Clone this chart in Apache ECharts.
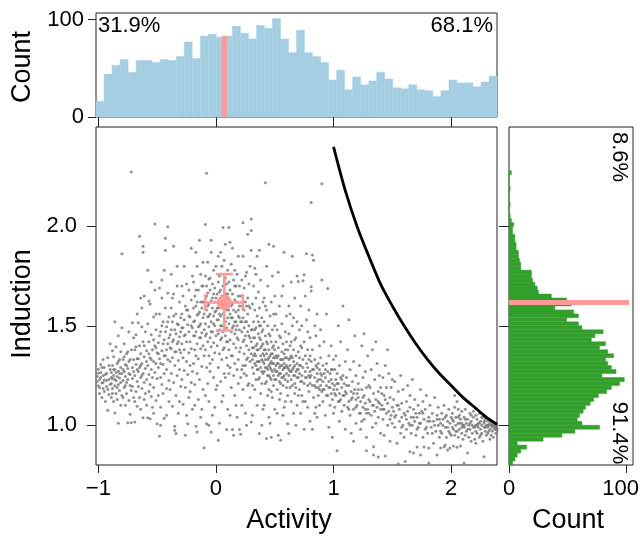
<!DOCTYPE html>
<html><head><meta charset="utf-8">
<script src="https://cdn.jsdelivr.net/npm/echarts@6/dist/echarts.min.js"></script>
<style>html,body{margin:0;padding:0;background:#fff}#c{width:640px;height:536px}</style>
</head><body><div id="c"></div>
<script>
// ---- Top histogram (Activity) ----
const activityBreaks = [-1.02,-0.952,-0.884,-0.815,-0.747,-0.679,-0.611,-0.543,-0.474,-0.406,-0.338,-0.270,-0.202,-0.133,-0.065,0.003,0.071,0.139,0.208,0.276,0.344,0.412,0.480,0.549,0.617,0.685,0.753,0.821,0.890,0.958,1.026,1.094,1.162,1.231,1.299,1.367,1.435,1.503,1.572,1.640,1.708,1.776,1.844,1.913,1.981,2.049,2.117,2.185,2.254,2.322,2.390];
const activityCounts = [16,44,53,59,46,58,58,56,59,58,62,77,60,83,85,82,83,93,86,80,94,91,101,80,66,89,66,62,56,38,48,28,41,33,37,46,39,30,29,33,28,27,21,27,38,35,35,31,36,42];
// ---- Right histogram (Induction) ----
const inductionBreaks = [0.80,0.82,0.84,0.86,0.88,0.90,0.92,0.94,0.96,0.98,1.00,1.02,1.04,1.06,1.08,1.10,1.12,1.14,1.16,1.18,1.20,1.22,1.24,1.26,1.28,1.30,1.32,1.34,1.36,1.38,1.40,1.42,1.44,1.46,1.48,1.50,1.52,1.54,1.56,1.58,1.60,1.62,1.64,1.66,1.68,1.70,1.72,1.74,1.76,1.78,1.80,1.82,1.84,1.86,1.88,1.90,1.92,1.94,1.96,1.98,2.00,2.02,2.04,2.06,2.08,2.10,2.12,2.14,2.16,2.18,2.20,2.22,2.24,2.26,2.28];
const inductionCounts = [3,5,7,10,15,7,29,45,56,77,62,58,60,63,65,69,72,76,83,87,94,98,79,91,87,84,82,89,84,77,82,70,73,80,62,59,49,59,55,39,53,49,36,25,24,22,20,19,19,10,10,9,8,8,6,6,5,5,3,3,4,2,1,0,0,1,0,0,0,1,0,0,0,2];
// ---- Mean marker with error bars ----
const meanActivity = 0.071, meanInduction = 1.617;
const activityErr = [-0.092, 0.229];
const inductionErr = [1.476, 1.760];
const meanBarTopCount = 83, meanBarRightCount = 102;
// ---- Boundary curve ----
const curveActivity = [1.0,1.1,1.2,1.3,1.4,1.5,1.6,1.7,1.8,1.9,2.0,2.1,2.2,2.3,2.39];
const curveInduction = [2.40,2.18,2.00,1.85,1.71,1.60,1.50,1.41,1.33,1.26,1.20,1.14,1.09,1.04,1.005];
// ---- Percent labels ----
const pctLabels = {left:'31.9%', right:'68.1%', above:'8.6%', below:'91.4%'};
// ---- Scatter points: [Activity x100, Induction x1000] ----
const scatterPoints = [
[-101,1245],[-100,1198],[-100,1282],[-99,1230],[-99,1160],[-98,1265],[-98,1305],[-97,1212],[-97,1140],[-96,1250],[-96,1185],[-95,1290],[-95,1228],[-94,1120],[-93,1262],[-93,1195],[-92,1340],[-91,1230],[-91,1155],[-90,1280],[-90,1410],[-92,1075],[-96,1330],
[-89,1210],[-89,1265],[-89,1140],[-88,1300],[-88,1185],[-88,1235],[-87,1120],[-87,1345],[-87,1250],[-86,1198],[-86,1280],[-86,1062],[-85,1225],[-85,1160],[-85,1395],[-84,1245],[-84,1310],[-84,1130],[-83,1205],[-83,1272],[-83,1450],[-82,1175],[-82,1238],[-82,1330],[-81,1100],[-81,1290],[-81,1215],[-80,1150],[-80,1260],[-80,1490],[-86,1520],[-83,1010],[-88,1375],[-81,1370],
[-80,1862],[-79,1225],[-79,1140],[-79,1330],[-78,1270],[-78,1190],[-78,1410],[-77,1245],[-77,1100],[-77,1305],[-76,1215],[-76,1360],[-76,1160],[-75,1013],[-75,1285],[-75,1230],[-74,1125],[-74,1470],[-74,1320],[-73,1200],[-73,1255],[-73,1055],[-72,1013],[-72,1380],[-72,1175],[-71,1290],[-71,1515],[-71,1235],[-70,1140],[-70,1330],[-69,1016],[-70,1440],[-72,2274],
[-69,1250],[-69,1380],[-68,1170],[-68,1305],[-68,1455],[-67,1220],[-67,1095],[-67,1335],[-66,1270],[-66,1515],[-66,1195],[-65,1950],[-65,1290],[-65,1140],[-65,1400],[-64,1240],[-64,1360],[-64,1080],[-63,1310],[-63,1185],[-63,1590],[-62,1900],[-62,1870],[-62,1038],[-62,1260],[-62,1420],[-61,1215],[-61,1345],[-61,1130],[-60,1285],[-60,1470],[-60,1160],[-64,1640],[-67,1560],[-61,1650],[-69,1120],[-63,1495],
[-59,1230],[-59,1375],[-59,1100],[-58,1038],[-58,1300],[-58,1510],[-57,1255],[-57,1170],[-57,1420],[-56,1033],[-56,1340],[-56,1205],[-56,1610],[-55,1280],[-55,1145],[-55,1455],[-54,1380],[-54,1240],[-54,1090],[-53,1320],[-53,1545],[-53,1190],[-52,2012],[-52,1265],[-52,1400],[-52,1680],[-51,1310],[-51,1125],[-51,1480],[-50,1008],[-50,1235],[-50,1365],[-55,1720],[-58,1780],[-53,1060],[-57,1625],[-51,1560],
[-49,1290],[-49,1415],[-49,1150],[-48,944],[-48,1335],[-48,1560],[-47,1240],[-47,1470],[-47,1090],[-46,1375],[-46,1205],[-46,1640],[-45,1305],[-45,1520],[-45,1160],[-44,1260],[-44,1430],[-44,1035],[-43,1940],[-43,1880],[-43,1350],[-43,1590],[-42,1050],[-42,1280],[-42,1495],[-42,1185],[-41,1998],[-41,1410],[-41,1330],[-40,1225],[-40,1545],[-40,1120],[-46,1730],[-44,1780],[-48,1690],[-41,1665],[-47,1000],
[-39,1320],[-39,1455],[-39,1180],[-38,1590],[-38,1260],[-38,1385],[-37,1520],[-37,1095],[-37,1340],[-36,1900],[-36,1430],[-36,1215],[-36,1660],[-35,995],[-35,975],[-35,1300],[-35,1480],[-34,958],[-34,1370],[-34,1560],[-34,1150],[-33,1250],[-33,1410],[-33,1700],[-32,1325],[-32,1505],[-32,1060],[-31,1280],[-31,1445],[-31,1620],[-30,1195],[-30,1365],[-30,1540],[-38,1760],[-33,1800],[-31,1120],[-37,1640],
[-29,1410],[-29,1560],[-29,1230],[-28,1340],[-28,1490],[-28,1650],[-28,1105],[-27,1380],[-27,1275],[-27,1530],[-26,950],[-26,1455],[-26,1600],[-26,1190],[-25,1320],[-25,1710],[-25,1420],[-24,1008],[-24,1505],[-24,1255],[-24,1580],[-23,1365],[-23,1470],[-23,1140],[-23,1680],[-22,1300],[-22,1545],[-22,1420],[-21,1890],[-21,1215],[-21,1630],[-21,1385],[-20,1490],[-20,1270],[-20,1750],[-20,1080],[-27,1800],[-25,1050],[-22,1170],[-29,1700],
[-19,1450],[-19,1590],[-19,1310],[-19,1720],[-18,1380],[-18,1525],[-18,1205],[-18,1650],[-17,995],[-17,1870],[-17,1470],[-17,1350],[-17,1600],[-16,966],[-16,1555],[-16,1260],[-16,1410],[-15,1680],[-15,1495],[-15,1130],[-15,1335],[-14,1930],[-14,1570],[-14,1440],[-14,1230],[-13,1620],[-13,1385],[-13,1510],[-13,1760],[-12,1295],[-12,1465],[-12,1590],[-12,1080],[-11,1540],[-11,1400],[-11,1700],[-11,1180],[-10,1480],[-10,1620],[-10,1350],[-16,1800],[-13,1040],[-18,1100],[-11,1820],
[-10,887],[-9,1510],[-9,1640],[-9,1380],[-9,1750],[-9,2010],[-8,1008],[-8,2267],[-8,1460],[-8,1580],[-8,1290],[-8,1700],[-7,1545],[-7,1420],[-7,1665],[-7,1210],[-7,1820],[-6,1495],[-6,1610],[-6,1350],[-6,1735],[-6,1120],[-5,1560],[-5,1440],[-5,1680],[-5,1270],[-4,1930],[-4,1870],[-4,966],[-4,1520],[-4,1625],[-4,1395],[-3,1590],[-3,1470],[-3,1710],[-3,1330],[-3,1050],[-2,1550],[-2,1660],[-2,1415],[-2,1780],[-2,1240],[-1,1500],[-1,1620],[-1,1365],[-1,1690],[0,1575],[0,1450],[0,1800],[0,1180],[-6,1000],[-9,1150],[-5,1310],[-1,1090],
[1,1530],[1,1660],[1,1400],[2,924],[2,1850],[2,1590],[2,1720],[2,1290],[3,1480],[3,1610],[3,1360],[3,1750],[4,1550],[4,1680],[4,1220],[4,1430],[5,1595],[5,1500],[5,1800],[5,1330],[6,1995],[6,1640],[6,1470],[6,1150],[6,1560],[7,1700],[7,1390],[7,1520],[7,1260],[8,1910],[8,1610],[8,1450],[8,1740],[9,978],[9,1580],[9,1340],[9,1660],[9,1490],[10,1540],[10,1420],[10,1780],[10,1080],[3,1010],[5,1120],[7,1830],[1,1200],[4,1870],[8,1240],[10,1300],[2,1460],[6,1380],[9,1710],[3,1560],[5,1650],
[11,1995],[11,1510],[11,1640],[11,1380],[11,1720],[12,1560],[12,1430],[12,1290],[12,1680],[13,1600],[13,1470],[13,1810],[13,1190],[14,978],[14,1540],[14,1350],[14,1660],[14,1490],[15,950],[15,1580],[15,1410],[15,1730],[15,1250],[16,1520],[16,1630],[16,1310],[16,1460],[17,1570],[17,1700],[17,1390],[17,1100],[18,1500],[18,1620],[18,1440],[18,1760],[19,1850],[19,1550],[19,1330],[19,1650],[19,1210],[20,978],[20,1480],[20,1600],[20,1370],[12,1050],[14,1890],[16,1150],[18,1280],[13,1350],[15,1500],[17,1480],[19,1430],[11,1260],[16,1780],[20,1700],[12,1920],[18,1040],
[21,955],[21,1520],[21,1650],[21,1390],[22,1470],[22,1600],[22,1280],[22,1730],[23,2018],[23,1540],[23,1420],[23,1180],[24,1580],[24,1360],[24,1690],[24,1490],[25,1450],[25,1620],[25,1300],[25,1060],[26,1520],[26,1400],[26,1770],[26,1250],[27,1960],[27,1560],[27,1470],[27,1340],[27,1640],[28,1500],[28,1380],[28,1210],[28,1710],[29,1440],[29,1590],[29,1320],[29,1140],[30,2037],[30,1980],[30,1880],[30,1016],[30,1480],[30,1360],[21,1240],[23,1850],[25,1520],[26,1330],[28,1600],[22,1100],[24,1260],[29,1800],[26,1000],[27,1200],[23,1300],[25,1750],
[31,1480],[31,1610],[31,1330],[31,1200],[32,1520],[32,1390],[32,1700],[32,1260],[33,1440],[33,1580],[33,1310],[33,1790],[34,1350],[34,1490],[34,1230],[34,1640],[35,1410],[35,1550],[35,1280],[35,1100],[36,1460],[36,1320],[36,1670],[36,1380],[37,1880],[37,958],[37,1500],[37,1240],[37,1590],[38,1350],[38,1430],[38,1290],[38,1730],[39,1400],[39,1540],[39,1210],[39,1330],[40,1360],[40,1480],[40,1260],[40,1620],[31,1050],[33,1180],[35,1850],[36,1230],[38,1160],[40,1080],[32,1440],[34,1300],[39,1270],[36,1520],[33,1360],[37,1320],[35,1380],[40,1320],[31,1390],[38,1500],[34,1760],[39,1000],
[41,1380],[41,1520],[41,1270],[41,1640],[42,2220],[42,1330],[42,1450],[42,1210],[43,933],[43,1360],[43,1290],[43,1580],[44,1410],[44,1250],[44,1330],[44,1700],[45,1910],[45,1300],[45,1460],[45,1180],[45,1380],[46,1240],[46,1350],[46,1550],[46,1290],[47,940],[47,1420],[47,1320],[47,1230],[47,1620],[48,1270],[48,1360],[48,1480],[48,1140],[49,1900],[49,1310],[49,1250],[49,1400],[50,1340],[50,1280],[50,1500],[50,1080],[41,1100],[43,1800],[44,1150],[46,1450],[48,1750],[49,1200],[42,1290],[45,1250],[47,1360],[50,1230],[43,1220],[46,1010],[48,1310],[41,1310],[44,1500],[49,1560],[42,1600],[47,1170],[50,1650],[45,1040],
[51,1300],[51,1420],[51,1230],[51,1560],[52,1270],[52,1340],[52,1180],[52,1480],[53,950],[53,1310],[53,1250],[53,1390],[54,1220],[54,1290],[54,1600],[54,1450],[55,924],[55,1330],[55,1260],[55,1160],[56,1370],[56,1240],[56,1510],[56,1300],[57,1280],[57,1200],[57,1410],[57,1700],[58,1870],[58,1310],[58,1250],[58,1360],[59,1230],[59,1290],[59,1470],[59,1120],[60,1340],[60,1260],[60,1550],[60,1190],[52,1060],[54,1130],[56,1650],[58,1090],[51,1350],[53,1770],[55,1440],[57,1330],[59,1380],[60,1420],[55,1210],[57,1050],
[61,1008],[61,1290],[61,1380],[61,1220],[62,958],[62,1330],[62,1250],[62,1460],[63,1190],[63,1300],[63,1560],[63,1270],[64,1350],[64,1230],[64,1120],[64,1420],[65,1850],[65,1280],[65,1200],[65,1500],[66,1320],[66,1250],[66,1380],[66,1060],[67,1210],[67,1300],[67,1640],[67,1160],[68,1270],[68,1350],[68,1440],[68,1190],[69,1750],[69,1240],[69,1310],[69,1100],[70,1723],[70,1280],[70,1370],[70,1150],[62,1600],[64,1720],[66,1540],[68,1000],[63,1400],[65,1340],[67,1430],[69,1520],[61,1150],[70,1240],
[71,1260],[71,1340],[71,1180],[71,1480],[72,1300],[72,1220],[72,1060],[72,1600],[73,1250],[73,1390],[73,1150],[74,1727],[74,1290],[74,1330],[75,1757],[75,1210],[75,1420],[75,980],[76,1270],[76,1350],[76,1120],[77,1863],[77,1240],[77,1310],[77,1530],[78,1200],[78,1290],[78,1380],[78,1090],[79,1250],[79,1330],[79,1170],[80,1270],[80,1440],[80,1210],[80,1020],[73,1500],[76,1650],[79,1580],[72,1400],[74,1120],[78,1470],[80,1350],
[81,2120],[81,1696],[81,1675],[81,1250],[81,1320],[82,1856],[82,1200],[82,1380],[83,1830],[83,1280],[83,1140],[84,1240],[84,1330],[84,1060],[85,1190],[85,1300],[85,1450],[86,1260],[86,1220],[86,1560],[87,1150],[87,1310],[87,1230],[88,1280],[88,1100],[88,1400],[89,1200],[89,1260],[89,1340],[90,2215],[90,1730],[90,1170],[90,1250],[82,980],[84,1500],[86,1040],[88,1180],[89,1480],[85,1090],
[91,1220],[91,1300],[91,1120],[92,1260],[92,1180],[92,1420],[93,1240],[93,1050],[94,1310],[94,1200],[94,1560],[95,1688],[95,1150],[95,1270],[96,1220],[96,1350],[96,990],[97,1190],[97,1260],[97,1100],[98,1230],[98,1400],[98,1160],[99,1280],[99,1210],[99,940],[100,1180],[100,1330],[100,1060],
[101,1200],[101,1280],[101,1090],[102,1150],[102,1350],[102,1230],[103,872],[103,1180],[103,1260],[104,1120],[104,1500],[104,1210],[105,1160],[105,1300],[105,1020],[106,1240],[106,1130],[106,1420],[107,1190],[107,1070],[108,1250],[108,1150],[108,1600],[109,1210],[109,1100],[110,1170],[110,1320],[110,980],
[111,1160],[111,1240],[112,1090],[112,1380],[113,1200],[113,1120],[114,1050],[114,1280],[115,1170],[115,960],[116,1220],[116,1140],[117,1320],[117,1080],[118,1180],[118,1450],[119,1130],[119,1010],[119,1250],[120,1160],[120,1100],[113,1530],[117,920],
[121,1140],[121,1210],[122,1060],[122,1300],[123,1120],[123,980],[124,1180],[124,1400],[125,1090],[125,1240],[126,1150],[126,1030],[127,1110],[127,1270],[128,1190],[128,940],[129,1080],[129,1350],[130,1130],[130,1200],[124,1020],[126,1460],[128,1060],
[131,1120],[131,1190],[132,1050],[132,1280],[133,1100],[133,1380],[134,892],[134,850],[134,1160],[135,1070],[135,1230],[136,1010],[136,1130],[137,1090],[137,1310],[138,840],[138,1170],[138,1040],[139,1110],[139,1250],[140,1080],[140,960],[140,1190],[133,990],[136,1420],[128,872],
[141,1100],[141,1160],[142,1030],[142,1240],[143,1080],[143,950],[144,845],[144,1130],[144,1300],[145,1060],[145,1190],[146,1000],[146,1110],[147,1070],[147,1260],[148,1140],[148,920],[149,1050],[149,1190],[150,1090],[150,1010],[146,1380],[143,1150],[148,1030],[150,1230],
[151,1070],[151,1130],[152,990],[152,1220],[153,1050],[154,1100],[154,910],[155,805],[155,1170],[156,1020],[156,1080],[157,960],[157,1250],[158,1040],[158,1110],[159,1000],[159,1180],[160,1060],[160,940],
[161,817],[161,1050],[162,1120],[162,980],[163,1070],[163,1200],[164,1010],[165,867],[165,1090],[165,1150],[166,960],[166,1040],[167,1230],[167,1000],[168,860],[168,1080],[169,1020],[169,1130],[170,950],[170,1060],
[171,890],[171,1040],[172,1100],[172,990],[173,1060],[174,850],[174,1180],[174,1010],[175,1070],[176,940],[176,1120],[177,890],[177,1030],[178,1080],[178,980],[179,1150],[180,1020],[180,960],
[181,885],[181,810],[181,1040],[182,1100],[183,990],[184,1060],[185,909],[185,1020],[186,1140],[187,970],[188,850],[188,1050],[189,1000],[189,1090],[190,940],[190,1030],
[191,885],[191,1010],[192,1060],[192,960],[193,1030],[194,890],[194,1100],[195,900],[195,990],[196,1050],[196,940],[197,875],[197,1020],[198,1080],[198,970],[199,885],[199,1010],[200,1040],[200,950],
[201,990],[201,1060],[202,895],[202,1020],[203,950],[203,1090],[204,1000],[204,1040],[205,889],[205,970],[205,1120],[206,1010],[206,940],[207,1050],[207,980],[208,895],[208,1030],[209,960],[209,1070],[210,1000],[210,930],[203,1150],[206,1080],[209,1010],
[211,810],[211,990],[211,1040],[212,950],[212,1080],[213,1010],[213,970],[214,860],[214,1030],[215,1000],[215,940],[216,1060],[216,980],[217,1020],[217,920],[218,1000],[218,960],[219,1040],[219,1070],[220,990],[220,930],
[221,909],[221,1000],[221,1050],[222,960],[222,1030],[223,990],[223,1010],[224,940],[224,1060],[225,980],[225,1020],[226,1000],[226,960],[227,1040],[227,920],[228,842],[228,990],[228,1010],[229,970],[229,1030],[230,1000],[230,950],
[231,990],[231,1020],[231,960],[232,1000],[232,1030],[233,980],[233,1010],[234,950],[234,1000],[235,990],[235,1020],[235,970],[236,1000],[236,940],[237,980],[237,1010],[238,990],[238,960],[239,1000],[239,975],[233,930],[236,1010],[238,1005],
// denser core of the cloud
[-101,1220],[-100,1262],[-99,1188],[-98,1240],[-97,1290],[-96,1215],[-95,1170],[-94,1255],[-93,1225],[-92,1180],[-91,1300],[-90,1205],[-89,1240],[-88,1160],[-87,1280],[-86,1230],[-85,1265],[-84,1190],[-83,1320],[-82,1260],
[-79,1280],[-78,1345],[-77,1200],[-76,1300],[-75,1370],[-74,1260],[-73,1330],[-71,1195],[-70,1270],[-68,1395],[-67,1280],[-66,1335],[-64,1300],[-63,1250],[-61,1400],[-59,1320],[-57,1360],[-55,1330],[-53,1430],[-51,1390],
[-49,1360],[-48,1450],[-47,1310],[-46,1500],[-45,1410],[-44,1350],[-43,1470],[-42,1380],[-41,1520],[-40,1440],[-39,1390],[-38,1480],[-37,1420],[-36,1550],[-35,1370],[-34,1460],[-33,1510],[-32,1420],[-31,1380],[-30,1470],[-29,1490],[-27,1450],[-25,1580],[-23,1550],[-21,1500],
[-19,1520],[-18,1450],[-17,1680],[-16,1620],[-15,1560],[-14,1500],[-13,1440],[-12,1700],[-11,1620],[-10,1560],[-9,1450],[-8,1650],[-7,1600],[-6,1550],[-5,1740],[-4,1470],[-3,1640],[-2,1510],[-1,1570],[0,1640],[1,1590],[2,1530],[3,1670],[4,1500],[5,1440],[6,1700],[8,1520],[9,1420],[10,1660],[11,1580],[13,1540],[14,1610],[16,1700],[17,1520],[19,1580],[20,1540],[22,1520],[24,1430],[26,1600],[28,1450],
[30,1420],[31,1290],[32,1350],[33,1480],[34,1400],[35,1320],[36,1280],[37,1440],[38,1390],[39,1470],[40,1410],[41,1350],[42,1380],[43,1420],[44,1280],[45,1340],[46,1310],[47,1280],[48,1390],[49,1340],[50,1380],[51,1270],[52,1310],[53,1350],[54,1260],[55,1300],[56,1330],[57,1240],[58,1290],[59,1340],[60,1300],[62,1280],[63,1340],[64,1270],[66,1290],[67,1250],[69,1280],[71,1300],[73,1220],[76,1240],
[80,1240],[82,1280],[84,1200],[86,1290],[87,1190],[89,1230],[91,1180],[93,1280],[94,1150],[96,1190],[98,1280],[99,1130],[101,1160],[103,1210],[105,1120],[107,1230],[109,1150],[111,1200],[113,1080],[115,1130],[117,1160],[119,1090],[121,1180],[123,1060],[125,1140],[127,1080],[130,1060],[134,1100],[138,1120],[142,1080],
[152,1040],[155,1100],[158,990],[162,1030],[165,1000],[168,1040],[171,980],[173,1010],[176,1060],[179,990],[182,1020],[184,960],[186,1000],[188,1030],[191,970],[193,1000],[195,1040],[197,990],[199,960],[201,1030],[202,980],[204,970],[206,1040],[207,1010],[209,990],[211,1000],[212,1030],[214,980],[216,1010],[217,1050],[219,990],[221,970],[222,1000],[224,1010],[225,950],[226,1040],[228,1020],[229,990],[231,1000],[232,970],[234,1020],[235,1000],[237,995],[238,980],[239,985]
];

const FONT = 'Liberation Sans, Arial, Helvetica, sans-serif';
const chart = echarts.init(document.getElementById('c'), null, {renderer:'canvas'});

const topHistData = activityCounts.map((c,i)=>[activityBreaks[i], activityBreaks[i+1], c]);
const rightHistData = inductionCounts.map((c,i)=>[inductionBreaks[i], inductionBreaks[i+1], c]);
const scatterData = scatterPoints.map(p=>[p[0]/100, p[1]/1000]);
const curveData = curveActivity.map((x,i)=>[x, curveInduction[i]]);

const axisColor = '#222';
function fmtNum(v){ return v < 0 ? '\u2212' + Math.abs(v) : String(v); }
const lbl = {fontSize:22, color:'#000', fontFamily:FONT};
const noLine = {show:false, onZero:false};

const option = {
  animation:false,
  backgroundColor:'#fff',
  grid:[
    {left:96, top:13, width:401, height:104},
    {left:96, top:127, width:401, height:338},
    {left:509, top:127, width:124, height:338}
  ].map(g=>Object.assign({show:true, borderColor:axisColor, borderWidth:1, backgroundColor:'transparent', containLabel:false, outerBoundsMode:'none'}, g)),
  xAxis:[
    {gridIndex:0, type:'value', position:'bottom', min:-1.02, max:2.39, axisLine:noLine, splitLine:{show:false},
     axisTick:{show:true, customValues:[-1,0,1,2], length:10, lineStyle:{color:axisColor}}, axisLabel:{show:false}},
    {gridIndex:1, type:'value', position:'bottom', min:-1.02, max:2.39, axisLine:noLine, splitLine:{show:false},
     axisTick:{show:true, customValues:[-1,0,1,2], length:8, lineStyle:{color:axisColor}},
     axisLabel:Object.assign({show:true, customValues:[-1,0,1,2], margin:13, formatter:fmtNum}, lbl)},
    {gridIndex:2, type:'value', position:'bottom', min:0, max:105.4, axisLine:noLine, splitLine:{show:false},
     axisTick:{show:true, customValues:[0,100], length:8, lineStyle:{color:axisColor}},
     axisLabel:Object.assign({show:true, customValues:[0,100], margin:13,
       formatter:v=> v===100 ? '{r|100}' : String(v),
       rich:{r:{fontSize:22, fontFamily:FONT, color:'#000', padding:[0,12,0,0]}}}, lbl)}
  ],
  yAxis:[
    {gridIndex:0, type:'value', position:'left', min:0, max:106.7, axisLine:noLine, splitLine:{show:false},
     axisTick:{show:true, customValues:[0,100], length:8, lineStyle:{color:axisColor}},
     axisLabel:Object.assign({show:true, customValues:[0,100], margin:12}, lbl)},
    {gridIndex:1, type:'value', position:'left', min:0.8, max:2.5, axisLine:noLine, splitLine:{show:false},
     axisTick:{show:true, customValues:[1,1.5,2], length:9, lineStyle:{color:axisColor}},
     axisLabel:Object.assign({show:true, customValues:[1,1.5,2], margin:19, formatter:v=>v.toFixed(1)}, lbl)},
    {gridIndex:2, type:'value', position:'left', min:0.8, max:2.5, axisLine:noLine, splitLine:{show:false},
     axisTick:{show:true, customValues:[1,1.5,2], length:10, lineStyle:{color:axisColor}}, axisLabel:{show:false}}
  ],
  series:[
    {type:'custom', xAxisIndex:0, yAxisIndex:0, data:topHistData, encode:{x:[0,1], y:2}, silent:true,
     renderItem:(params, api)=>{
       const a = api.coord([api.value(0), api.value(2)]);
       const b = api.coord([api.value(1), 0]);
       return {type:'rect', shape:{x:a[0], y:a[1], width:b[0]-a[0], height:b[1]-a[1]},
               style:{fill:'#a6cee3', stroke:'#a6cee3', lineWidth:0.5}};
     }},
    {type:'line', xAxisIndex:0, yAxisIndex:0, data:[[meanActivity,0],[meanActivity,meanBarTopCount]],
     symbol:'none', lineStyle:{color:'#fb9a99', width:5, cap:'butt'}, silent:true, z:5},
    {type:'scatter', xAxisIndex:1, yAxisIndex:1, data:scatterData, symbol:'circle', symbolSize:3,
     itemStyle:{color:'#767676'}, silent:true, clip:true},
    {type:'line', xAxisIndex:1, yAxisIndex:1, data:curveData, smooth:0.3, symbol:'none',
     lineStyle:{color:'#000', width:2.8}, silent:true, z:4},
    {type:'custom', xAxisIndex:1, yAxisIndex:1, silent:true, z:6,
     data:[[meanActivity, meanInduction, activityErr[0], activityErr[1], inductionErr[0], inductionErr[1]]],
     encode:{x:0, y:1},
     renderItem:(params, api)=>{
       const c = api.coord([api.value(0), api.value(1)]);
       const l = api.coord([api.value(2), api.value(1)]);
       const r = api.coord([api.value(3), api.value(1)]);
       const bt = api.coord([api.value(0), api.value(4)]);
       const tp = api.coord([api.value(0), api.value(5)]);
       const st = {stroke:'#fb9a99', lineWidth:2.6};
       const h = 8.5;
       return {type:'group', children:[
         {type:'line', shape:{x1:l[0], y1:l[1], x2:r[0], y2:r[1]}, style:st},
         {type:'line', shape:{x1:tp[0], y1:tp[1], x2:bt[0], y2:bt[1]}, style:st},
         {type:'line', shape:{x1:l[0], y1:l[1]-h, x2:l[0], y2:l[1]+h}, style:st},
         {type:'line', shape:{x1:r[0], y1:r[1]-h, x2:r[0], y2:r[1]+h}, style:st},
         {type:'line', shape:{x1:tp[0]-h, y1:tp[1], x2:tp[0]+h, y2:tp[1]}, style:st},
         {type:'line', shape:{x1:bt[0]-h, y1:bt[1], x2:bt[0]+h, y2:bt[1]}, style:st},
         {type:'circle', shape:{cx:c[0], cy:c[1], r:7.5}, style:{fill:'#fb9a99'}}
       ]};
     }},
    {type:'custom', xAxisIndex:2, yAxisIndex:2, data:rightHistData, encode:{y:[0,1], x:2}, silent:true,
     renderItem:(params, api)=>{
       const a = api.coord([0, api.value(1)]);
       const b = api.coord([api.value(2), api.value(0)]);
       return {type:'rect', shape:{x:a[0], y:a[1], width:b[0]-a[0], height:b[1]-a[1]},
               style:{fill:'#33a02c', stroke:'#33a02c', lineWidth:0.5}};
     }},
    {type:'line', xAxisIndex:2, yAxisIndex:2, data:[[0,meanInduction],[meanBarRightCount,meanInduction]],
     symbol:'none', lineStyle:{color:'#fb9a99', width:5, cap:'butt'}, silent:true, z:5}
  ],
  graphic:[
    {type:'text', left:98, top:15, z:10, style:{text:pctLabels.left, font:'22px '+FONT, fill:'#000'}},
    {type:'text', right:147, top:15, z:10, style:{text:pctLabels.right, font:'22px '+FONT, fill:'#000'}},
    {type:'text', x:619, y:157, rotation:-Math.PI/2, z:10, style:{text:pctLabels.above, font:'22px '+FONT, fill:'#000', align:'center', verticalAlign:'middle'}},
    {type:'text', x:619, y:433, rotation:-Math.PI/2, z:10, style:{text:pctLabels.below, font:'22px '+FONT, fill:'#000', align:'center', verticalAlign:'middle'}},
    {type:'text', x:23, y:67, rotation:Math.PI/2, z:10, style:{text:'Count', font:'27px '+FONT, fill:'#000', align:'center', verticalAlign:'middle'}},
    {type:'text', x:23, y:304, rotation:Math.PI/2, z:10, style:{text:'Induction', font:'27px '+FONT, fill:'#000', align:'center', verticalAlign:'middle'}},
    {type:'text', x:289, y:521, z:10, style:{text:'Activity', font:'27px '+FONT, fill:'#000', align:'center', verticalAlign:'middle'}},
    {type:'text', x:568, y:521, z:10, style:{text:'Count', font:'27px '+FONT, fill:'#000', align:'center', verticalAlign:'middle'}}
  ]
};
chart.setOption(option);
</script>
</body></html>
